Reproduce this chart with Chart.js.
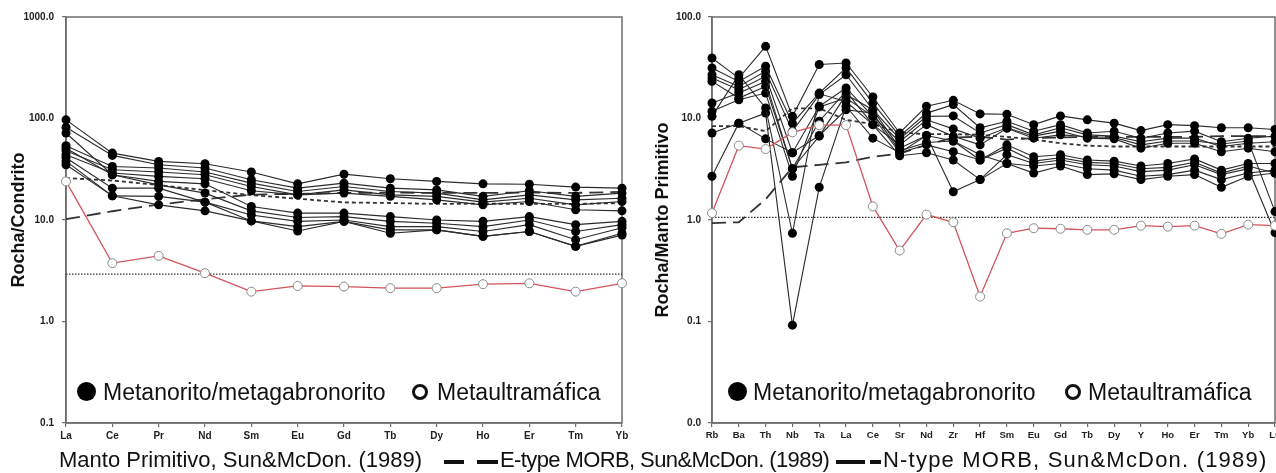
<!DOCTYPE html>
<html><head><meta charset="utf-8">
<script src="https://cdn.jsdelivr.net/npm/chart.js@4.4.0/dist/chart.umd.min.js"></script>
<style>
html,body{margin:0;padding:0;background:#fff;overflow:hidden;}
body{width:1276px;height:473px;position:relative;font-family:"Liberation Sans",Arial,sans-serif;}
.cv{position:absolute;top:0;}
.leg{position:absolute;font-size:23px;color:#111;line-height:30px;height:30px;white-space:nowrap;}
.bl{position:absolute;font-size:22px;color:#111;line-height:26px;height:26px;white-space:nowrap;top:447px;}
.fdot{position:absolute;width:19px;height:19px;border-radius:50%;background:#000;}
.odot{position:absolute;width:10px;height:10px;border-radius:50%;border:3px solid #111;background:#fff;}
.dash{position:absolute;height:4px;background:#111;}
</style></head><body>
<canvas id="c1" class="cv" style="left:0" width="640" height="450"></canvas>
<canvas id="c2" class="cv" style="left:640px" width="660" height="450"></canvas>

<div class="fdot" style="left:77px;top:382px"></div>
<div class="leg" style="left:103px;top:377px">Metanorito/metagabronorito</div>
<div class="odot" style="left:412px;top:384px"></div>
<div class="leg" style="left:437px;top:377px">Metaultramáfica</div>

<div class="fdot" style="left:728px;top:382px"></div>
<div class="leg" style="left:753px;top:377px">Metanorito/metagabronorito</div>
<div class="odot" style="left:1065px;top:384px"></div>
<div class="leg" style="left:1088px;top:377px">Metaultramáfica</div>

<div class="bl" style="left:59px">Manto Primitivo, Sun&amp;McDon. (1989)</div>
<div class="dash" style="left:444px;width:20px;top:460px"></div>
<div class="dash" style="left:477px;width:21px;top:460px"></div>
<div class="bl" style="left:500px;letter-spacing:-0.6px">E-type MORB, Sun&amp;McDon. (1989)</div>
<div class="dash" style="left:836px;width:29px;top:460px"></div>
<div class="dash" style="left:870px;width:11px;top:460px"></div>
<div class="bl" style="left:883px;letter-spacing:1.2px">N-type MORB, Sun&amp;McDon. (1989)</div>

<script>
// ---------- Left chart: REE / Chondrite ----------
const reeLabels = ['La','Ce','Pr','Nd','Sm','Eu','Gd','Tb','Dy','Ho','Er','Tm','Yb'];
const reeTicks = [1000, 100, 10, 1, 0.1];
const reeA = [97, 45.6, 37.8, 35.8, 29.7, 22.7, 28.3, 25.5, 24.0, 22.7, 22.5, 21.1, 20.6];
const reeB = [82, 43.3, 35.0, 32.5, 24.9, 20.6, 23.1, 20.6, 19.8, 17.1, 19.4, 17.1, 18.4];
const reeC = [54, 33.7, 32.5, 29.7, 23.1, 19.1, 21.4, 19.1, 18.4, 15.8, 17.7, 15.8, 16.4];
const reeD = [48, 31.3, 29.7, 27.9, 21.4, 17.7, 19.8, 17.7, 17.1, 15.0, 16.4, 14.1, 15.2];
const reeE = [44, 29.0, 26.9, 25.5, 19.4, 17.7, 18.4, 17.1, 15.8, 14.1, 15.2, 12.6, 12.3];
const reeF = [72, 27.9, 24.0, 22.7, 13.6, 11.7, 11.7, 10.8, 10.0, 9.7, 10.8, 9.0, 9.7];
const reeG = [51, 27.9, 22.2, 18.4, 12.3, 10.6, 10.8, 9.7, 9.3, 8.6, 10.0, 7.7, 9.0];
const reeH = [41, 20.6, 20.6, 15.0, 11.2, 9.7, 10.0, 8.6, 8.6, 7.7, 9.0, 6.4, 8.4];
const reeI = [38, 17.3, 17.1, 15.0, 9.8, 8.6, 9.7, 8.0, 8.0, 6.9, 7.7, 5.5, 7.1];
const reeJ = [35, 17.3, 14.1, 12.3, 9.8, 7.8, 9.7, 7.4, 8.0, 6.9, 7.7, 5.5, 7.4];
const reeUltramafic = [24, 3.76, 4.43, 2.99, 1.97, 2.24, 2.21, 2.13, 2.13, 2.33, 2.38, 1.97, 2.38];
const reePrimitiveMantle = [2.93, 2.93, 2.93, 2.93, 2.93, 2.93, 2.93, 2.93, 2.93, 2.93, 2.93, 2.93, 2.93];
const reeEMORB = [25.9, 24.5, 22.1, 19.7, 17.6, 16.2, 14.9, 14.7, 14.4, 14.5, 14.4, 14.4, 14.7];
const reeNMORB = [10.2, 12.2, 14.2, 16.0, 17.8, 18.1, 18.5, 18.6, 18.5, 18.5, 18.6, 18.5, 18.9];

// ---------- Right chart: spider / Primitive mantle ----------
const spiderLabels = ['Rb','Ba','Th','Nb','Ta','La','Ce','Sr','Nd','Zr','Hf','Sm','Eu','Gd','Tb','Dy','Y','Ho','Er','Tm','Yb','Lu'];
const spiderTicks = [100, 10, 1, 0.1, 0.01];
const spR1 = [39.5, 25.0, 51.4, 10.5, 34.0, 35.2, 16.3, 7.2, 13.2, 15.1, 11.1, 11.0, 8.7, 10.6, 9.7, 9.0, 7.6, 8.7, 8.5, 8.1, 8.1, 7.8];
const spR2 = [31.5, 23.2, 32.7, 9.0, 17.8, 31.5, 14.2, 6.7, 11.3, 13.7, 8.1, 9.4, 7.5, 8.7, 7.2, 7.5, 6.4, 7.2, 7.5, 5.9, 6.4, 6.7];
const spR3 = [27.0, 20.7, 29.2, 7.5, 17.2, 27.0, 12.2, 6.3, 10.5, 10.6, 7.2, 8.7, 6.9, 8.1, 6.9, 6.7, 5.9, 6.4, 6.4, 5.3, 5.7, 5.9];
const spR4 = [25.0, 19.2, 26.0, 4.6, 13.2, 20.0, 10.5, 5.9, 9.7, 7.9, 6.4, 8.1, 6.7, 7.5, 6.4, 6.3, 5.1, 5.7, 5.7, 4.7, 5.1, 4.7];
const spR5 = [14.2, 17.8, 23.2, 3.2, 9.4, 18.5, 8.7, 5.5, 8.7, 6.7, 5.5, 8.0, 6.4, 6.9, 6.6, 6.5, 5.5, 6.0, 6.0, 5.6, 6.0, 1.21];
const spR6 = [23.2, 15.9, 20.7, 3.2, 6.7, 17.2, 12.2, 5.1, 6.8, 6.0, 3.9, 5.5, 4.2, 4.4, 3.9, 3.8, 3.4, 3.6, 4.0, 3.1, 3.6, 3.6];
const spR7 = [11.8, 15.3, 17.8, 2.7, 13.0, 15.9, 10.5, 4.6, 5.5, 4.7, 3.9, 5.1, 3.8, 4.1, 3.7, 3.6, 3.2, 3.3, 3.7, 2.9, 3.4, 2.9];
const spR8 = [10.5, 27.0, 12.7, 0.74, 17.5, 14.7, 8.7, 4.3, 4.6, 3.9, 2.5, 4.4, 3.6, 3.9, 3.5, 3.4, 3.0, 3.1, 3.5, 2.8, 3.2, 0.75];
const spR9 = [7.2, 9.0, 11.3, 0.092, 2.1, 13.2, 6.4, 4.6, 6.8, 1.9, 2.5, 3.6, 3.4, 3.6, 3.2, 3.1, 2.7, 2.8, 3.1, 2.5, 2.9, 3.1];
const spR10 = [2.7, 9.0, 6.3, 4.6, 6.8, 12.2, 11.3, 4.8, 5.8, 6.0, 4.4, 3.6, 2.9, 3.4, 2.8, 2.85, 2.5, 2.7, 2.8, 2.1, 2.7, 2.9];
const spUltramafic = [1.17, 5.4, 5.0, 7.3, 8.6, 8.6, 1.36, 0.50, 1.13, 0.95, 0.176, 0.74, 0.83, 0.82, 0.80, 0.80, 0.88, 0.86, 0.88, 0.73, 0.90, 0.88];
const spPrimitiveMantle = [1.06, 1.06, 1.06, 1.06, 1.06, 1.06, 1.06, 1.06, 1.06, 1.06, 1.06, 1.06, 1.06, 1.06, 1.06, 1.06, 1.06, 1.06, 1.06, 1.06, 1.06, 1.06];
const spEMORB = [8.4, 8.4, 7.5, 12.6, 12.6, 9.7, 8.8, 7.3, 7.0, 7.0, 6.9, 6.6, 6.2, 5.7, 5.4, 5.3, 5.3, 5.3, 5.3, 5.3, 5.3, 5.3];
const spNMORB = [0.93, 0.95, 1.6, 3.3, 3.5, 3.7, 4.2, 4.5, 5.5, 6.5, 6.6, 6.2, 6.4, 6.5, 6.6, 6.6, 6.6, 6.6, 6.6, 6.7, 6.7, 6.7];

const FONT = '"Liberation Sans", Arial, sans-serif';

function sampleSet(d){
  return {data:d, borderColor:'#2b2b2b', borderWidth:1.1, pointRadius:4.5, pointHoverRadius:4.5,
    pointBackgroundColor:'#000', pointBorderColor:'#000', pointBorderWidth:0, clip:false, order:1, tension:0};
}
function ultraSet(d){
  return {data:d, borderColor:'#d2545c', borderWidth:1.3, pointRadius:4.5, pointHoverRadius:4.5,
    pointBackgroundColor:'#fff', pointBorderColor:'#8a8a8a', pointBorderWidth:1, clip:false, order:0, tension:0};
}
function refSet(d, dash, w){
  return {data:d, borderColor:'#333', borderWidth:w, borderDash:dash, pointRadius:0, clip:false, order:2, tension:0};
}

const framePlugin = {
  id:'frame',
  beforeDatasetsDraw(chart){
    const a = chart.chartArea, ctx = chart.ctx;
    ctx.save();
    ctx.strokeStyle = '#6e6e6e';
    ctx.lineWidth = 1.5;
    ctx.strokeRect(a.left, a.top, a.right - a.left, a.bottom - a.top);
    ctx.restore();
  }
};

function makeChart(id, labels, datasets, yMin, yMax, tickVals, title, leftW, padRight, titlePad, tickPad, xFont){
  return new Chart(document.getElementById(id), {
    type:'line',
    data:{labels:labels, datasets:datasets},
    options:{
      responsive:false, animation:false, devicePixelRatio:1,
      layout:{padding:{top:17, right:padRight, bottom:0, left:0}},
      plugins:{legend:{display:false}, tooltip:{enabled:false}},
      scales:{
        x:{
          type:'category', offset:false,
          grid:{display:true, drawOnChartArea:false, drawTicks:true, tickLength:4, color:'#6e6e6e', lineWidth:1.2},
          border:{display:true, color:'#6e6e6e', width:1.5},
          ticks:{font:{family:FONT, size:xFont, weight:'bold'}, color:'#222', padding:3, maxRotation:0, autoSkip:false},
          afterFit(s){ s.height = 27; }
        },
        y:{
          type:'logarithmic', min:yMin, max:yMax,
          grid:{display:true, drawOnChartArea:false, drawTicks:true, tickLength:4, color:'#6e6e6e', lineWidth:1.2},
          border:{display:true, color:'#6e6e6e', width:1.5},
          afterBuildTicks(s){ s.ticks = tickVals.map(v => ({value:v})); },
          ticks:{font:{family:FONT, size:10, weight:'bold'}, color:'#222', padding:tickPad,
                 callback:(v) => Number(v).toFixed(1)},
          title:{display:true, text:title, font:{family:FONT, size:18, weight:'bold'}, color:'#111', padding:{top:titlePad, bottom:0}},
          afterFit(s){ s.width = leftW; }
        }
      }
    },
    plugins:[framePlugin]
  });
}

const leftSets = [reeA, reeB, reeC, reeD, reeE, reeF, reeG, reeH, reeI, reeJ].map(sampleSet);
leftSets.push(ultraSet(reeUltramafic));
leftSets.push(refSet(reePrimitiveMantle, [1.5, 1.5], 1.2));
leftSets.push(refSet(reeEMORB, [4, 3], 1.8));
leftSets.push(refSet(reeNMORB, [14, 7], 1.8));
makeChart('c1', reeLabels, leftSets, 0.1, 1000, reeTicks, 'Rocha/Condrito', 66, 18, 8, 8, 10);

const rightSets = [spR1, spR2, spR3, spR4, spR5, spR6, spR7, spR8, spR9, spR10].map(sampleSet);
rightSets.push(ultraSet(spUltramafic));
rightSets.push(refSet(spPrimitiveMantle, [1.5, 1.5], 1.2));
rightSets.push(refSet(spEMORB, [4, 3], 1.8));
rightSets.push(refSet(spNMORB, [14, 7], 1.8));
makeChart('c2', spiderLabels, rightSets, 0.01, 100, spiderTicks, 'Rocha/Manto Primitivo', 72, 25, 12, 7, 9.5);
</script>
</body></html>
